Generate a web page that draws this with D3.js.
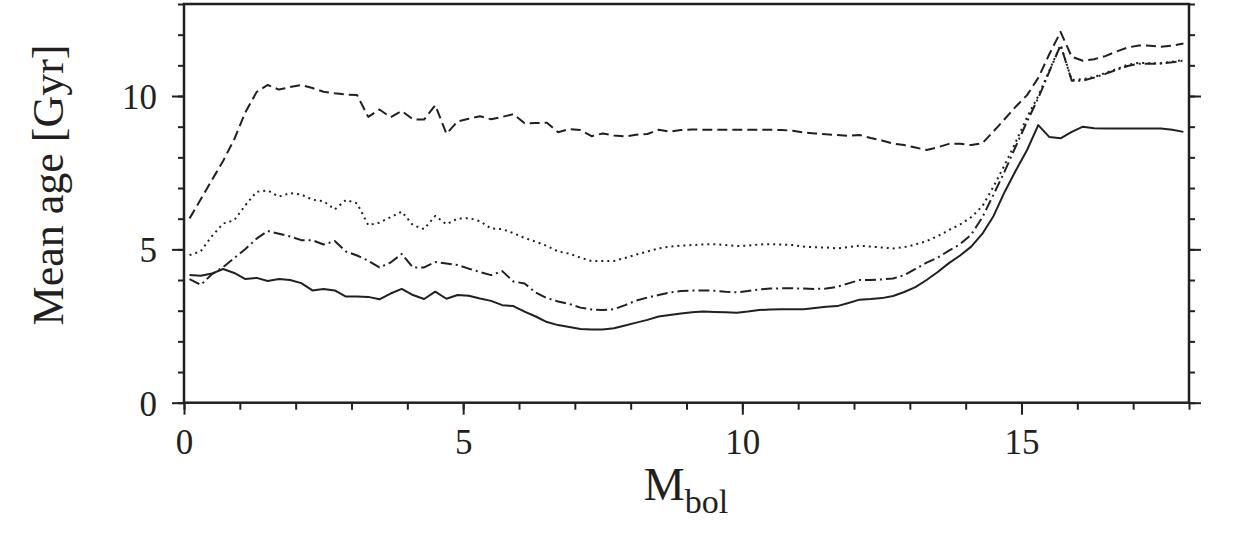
<!DOCTYPE html>
<html>
<head>
<meta charset="utf-8">
<script src="https://cdn.jsdelivr.net/npm/d3@7"></script>
<style>
  body { margin: 0; background: #fff; }
  svg { display: block; font-family: "Liberation Serif", "Times New Roman", serif; }
</style>
</head>
<body>
<svg id="chart" width="1246" height="541"></svg>
<script>
'use strict';

// bolometric magnitude bins
var mbol = [
  0.1, 0.3, 0.5, 0.7, 0.9, 1.1, 1.3, 1.5, 1.7, 1.9,
  2.1, 2.3, 2.5, 2.7, 2.9, 3.1, 3.3, 3.5, 3.7, 3.9,
  4.1, 4.3, 4.5, 4.7, 4.9, 5.1, 5.3, 5.5, 5.7, 5.9,
  6.1, 6.3, 6.5, 6.7, 6.9, 7.1, 7.3, 7.5, 7.7, 7.9,
  8.1, 8.3, 8.5, 8.7, 8.9, 9.1, 9.3, 9.5, 9.7, 9.9,
  10.1, 10.3, 10.5, 10.7, 10.9, 11.1, 11.3, 11.5, 11.7, 11.9,
  12.1, 12.3, 12.5, 12.7, 12.9, 13.1, 13.3, 13.5, 13.7, 13.9,
  14.1, 14.3, 14.5, 14.7, 14.9, 15.1, 15.3, 15.5, 15.7, 15.9,
  16.1, 16.3, 16.5, 16.7, 16.9, 17.1, 17.3, 17.5, 17.7, 17.9
];

// mean ages [Gyr]
var ageSolid = [
  4.16, 4.14, 4.21, 4.36, 4.23, 4.03, 4.07, 3.97, 4.03, 4.00,
  3.90, 3.66, 3.71, 3.66, 3.46, 3.46, 3.45, 3.37, 3.56, 3.71,
  3.51, 3.38, 3.62, 3.39, 3.51, 3.49, 3.40, 3.32, 3.18, 3.15,
  2.97, 2.81, 2.63, 2.53, 2.47, 2.40, 2.39, 2.39, 2.43, 2.52,
  2.61, 2.70, 2.81, 2.86, 2.91, 2.95, 2.97, 2.96, 2.95, 2.93,
  2.97, 3.02, 3.04, 3.05, 3.05, 3.05, 3.09, 3.13, 3.15, 3.25,
  3.36, 3.38, 3.41, 3.48, 3.61, 3.77, 4.00, 4.26, 4.55, 4.80,
  5.09, 5.51, 6.09, 6.88, 7.58, 8.24, 9.05, 8.66, 8.62, 8.83,
  9.00, 8.95, 8.94, 8.94, 8.94, 8.94, 8.94, 8.94, 8.90, 8.83
];

var ageDashed = [
  6.01, 6.63, 7.26, 7.88, 8.59, 9.47, 10.13, 10.36, 10.21, 10.29,
  10.36, 10.26, 10.14, 10.09, 10.05, 10.03, 9.32, 9.56, 9.31, 9.51,
  9.24, 9.23, 9.70, 8.77, 9.17, 9.26, 9.34, 9.24, 9.32, 9.41,
  9.11, 9.12, 9.13, 8.82, 8.92, 8.89, 8.69, 8.78, 8.71, 8.68,
  8.74, 8.76, 8.90, 8.84, 8.89, 8.91, 8.90, 8.90, 8.90, 8.90,
  8.90, 8.90, 8.90, 8.89, 8.87, 8.81, 8.78, 8.75, 8.73, 8.70,
  8.73, 8.63, 8.55, 8.45, 8.40, 8.32, 8.24, 8.33, 8.44, 8.44,
  8.40, 8.46, 8.85, 9.25, 9.66, 10.03, 10.59, 11.37, 12.09, 11.28,
  11.15, 11.20, 11.30, 11.45, 11.58, 11.65, 11.64, 11.61, 11.64, 11.71
];

var ageDotted = [
  4.81, 4.94, 5.43, 5.84, 5.95, 6.44, 6.88, 6.92, 6.72, 6.83,
  6.79, 6.62, 6.57, 6.30, 6.61, 6.50, 5.79, 5.87, 6.05, 6.23,
  5.79, 5.66, 6.09, 5.82, 6.00, 6.02, 5.92, 5.68, 5.66, 5.53,
  5.37, 5.25, 5.11, 4.93, 4.86, 4.73, 4.62, 4.62, 4.62, 4.72,
  4.83, 4.93, 5.03, 5.09, 5.12, 5.14, 5.16, 5.17, 5.14, 5.11,
  5.12, 5.16, 5.17, 5.16, 5.14, 5.09, 5.07, 5.06, 5.03, 5.07,
  5.12, 5.09, 5.06, 5.03, 5.07, 5.16, 5.27, 5.43, 5.63, 5.81,
  6.05, 6.41, 7.05, 7.76, 8.51, 9.31, 10.00, 10.84, 11.66, 10.52,
  10.55, 10.62, 10.75, 10.88, 11.02, 11.08, 11.07, 11.07, 11.12, 11.17
];

var ageDashDot = [
  4.03, 3.84, 4.19, 4.42, 4.72, 5.01, 5.35, 5.60, 5.51, 5.42,
  5.30, 5.30, 5.16, 5.27, 4.93, 4.80, 4.63, 4.41, 4.57, 4.85,
  4.41, 4.41, 4.59, 4.54, 4.49, 4.37, 4.26, 4.16, 4.29, 3.95,
  3.89, 3.59, 3.41, 3.30, 3.22, 3.10, 3.04, 3.02, 3.05, 3.18,
  3.33, 3.43, 3.51, 3.59, 3.64, 3.66, 3.66, 3.65, 3.62, 3.60,
  3.64, 3.69, 3.72, 3.73, 3.73, 3.72, 3.71, 3.72, 3.78, 3.89,
  4.00, 4.00, 4.02, 4.05, 4.16, 4.36, 4.57, 4.73, 4.96, 5.17,
  5.48, 6.05, 6.79, 7.55, 8.37, 9.17, 9.93, 10.80, 11.66, 10.50,
  10.50, 10.60, 10.72, 10.85, 10.98, 11.05, 11.05, 11.06, 11.10, 11.15
];

var xMajor = [0, 5, 10, 15];
var xMinor = [0, 1, 2, 3, 4, 5, 6, 7, 8, 9, 10, 11, 12, 13, 14, 15, 16, 17, 18];
var yMajor = [0, 5, 10];
var yMinor = [0, 1, 2, 3, 4, 5, 6, 7, 8, 9, 10, 11, 12, 13];

var ink = '#231f20';
var svg = d3.select('#chart');

var x = d3.scaleLinear().domain([0, 18]).range([184, 1189]);
var y = d3.scaleLinear().domain([0, 13]).range([402.7, 4]);

// curves
var line = d3.line()
  .x(function (d) { return x(d[0]); })
  .y(function (d) { return y(d[1]); });

var series = [
  {ages: ageSolid, dash: null},
  {ages: ageDashed, dash: '10,5'},
  {ages: ageDotted, dash: '2,4'},
  {ages: ageDashDot, dash: '11,4,2,4'}
];

series.forEach(function (s) {
  svg.append('path')
    .datum(d3.zip(mbol, s.ages))
    .attr('d', line)
    .attr('fill', 'none')
    .attr('stroke', ink)
    .attr('stroke-width', 2)
    .attr('stroke-linejoin', 'round')
    .attr('stroke-dasharray', s.dash);
});

// axes: minor ticks first, then labelled major ticks
function axis(gen, vals, size, tx, ty, labels) {
  var g = svg.append('g')
    .attr('transform', 'translate(' + tx + ',' + ty + ')')
    .call(gen.tickValues(vals).tickSize(size).tickSizeOuter(0)
      .tickPadding(12).tickFormat(labels ? d3.format('d') : ''));
  g.select('.domain').remove();
  g.selectAll('.tick line').attr('stroke', ink).attr('stroke-width', 2);
  g.selectAll('.tick text')
    .attr('fill', ink)
    .style('font-size', '35px')
    .style('font-family', '"Liberation Serif", "Times New Roman", serif');
  return g;
}

axis(d3.axisBottom(x), xMinor, 7, 0, 402.7, false);
axis(d3.axisBottom(x), xMajor, 12, 0, 402.7, true)
  .selectAll('.tick text').attr('dy', '0.78em').attr('y', 24);
axis(d3.axisLeft(y), yMinor, 6, 184, 0, false);
axis(d3.axisLeft(y), yMajor, 12, 184, 0, true)
  .selectAll('.tick text').attr('x', -27).attr('dy', '0.36em');
axis(d3.axisRight(y), yMinor, 6, 1189, 0, false);
axis(d3.axisRight(y), yMajor, 12, 1189, 0, false);

// frame
svg.append('rect')
  .attr('x', x(0)).attr('y', y(13))
  .attr('width', x(18) - x(0)).attr('height', y(0) - y(13))
  .attr('fill', 'none')
  .attr('stroke', ink)
  .attr('stroke-width', 2.5);

// axis titles
var xt = svg.append('text')
  .attr('x', 686).attr('y', 500)
  .attr('text-anchor', 'middle')
  .attr('fill', ink)
  .style('font-size', '46px');
xt.append('tspan').text('M');
xt.append('tspan').attr('dy', 13).style('font-size', '34px').text('bol');

svg.append('text')
  .attr('transform', 'translate(63,185) rotate(-90)')
  .attr('text-anchor', 'middle')
  .attr('fill', ink)
  .style('font-size', '44px')
  .text('Mean age [Gyr]');
</script>
</body>
</html>
